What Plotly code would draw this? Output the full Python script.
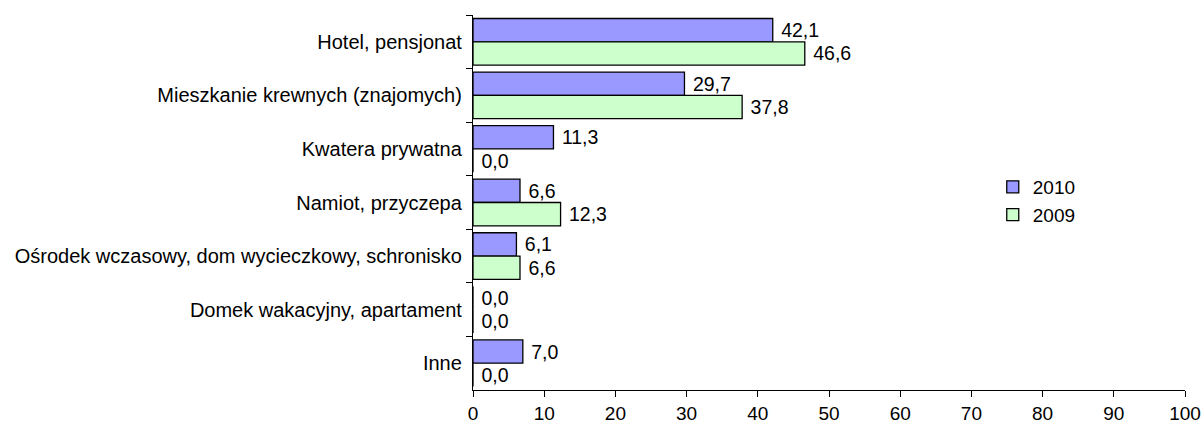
import plotly.graph_objects as go

categories = ["Hotel, pensjonat", "Mieszkanie krewnych (znajomych)", "Kwatera prywatna",
              "Namiot, przyczepa", "Ośrodek wczasowy, dom wycieczkowy, schronisko",
              "Domek wakacyjny, apartament", "Inne"]
values_2010 = [42.1, 29.7, 11.3, 6.6, 6.1, 0.0, 7.0]
values_2009 = [46.6, 37.8, 0.0, 12.3, 6.6, 0.0, 0.0]
x_ticks = [0, 10, 20, 30, 40, 50, 60, 70, 80, 90, 100]

FONT = "Liberation Sans, Arial"
fig = go.Figure()
for name, vals, color in [("2010", values_2010, "#9999FF"), ("2009", values_2009, "#CCFFCC")]:
    fig.add_trace(go.Bar(
        y=categories, x=vals, name=name, orientation="h",
        marker=dict(color=color, line=dict(color="black", width=1.3)),
        texttemplate="\u00a0%{x:.1f}", textposition="outside",
        textfont=dict(color="black", size=19.5, family=FONT),
        cliponaxis=False,
    ))

fig.update_layout(
    width=1204, height=426,
    barmode="group", bargap=0.13, bargroupgap=0,
    separators=", ",
    plot_bgcolor="white", paper_bgcolor="white",
    font=dict(family=FONT, size=19, color="black"),
    margin=dict(l=473, r=19, t=15, b=36, autoexpand=False),
    legend=dict(x=0.73, y=0.504, xanchor="left", yanchor="middle",
                font=dict(size=19), traceorder="normal",
                bgcolor="rgba(0,0,0,0)", itemwidth=30, tracegroupgap=0),
    showlegend=True,
)
fig.update_xaxes(range=[0, 100], tickvals=x_ticks, showgrid=False, zeroline=False,
                 showline=True, linecolor="black", linewidth=1.3, automargin=False,
                 ticks="outside", ticklen=6, tickcolor="black", tickwidth=1.3,
                 tickfont=dict(size=19))
fig.update_yaxes(autorange="reversed", showgrid=False, showline=True, linecolor="black",
                 linewidth=1.3, ticks="outside", tickson="boundaries", ticklen=6,
                 ticklabelstandoff=6,
                 automargin=False, tickcolor="black", tickwidth=1.3, tickfont=dict(size=20))

fig.write_html("out.html", config={"displayModeBar": False},
               post_script="document.body.style.margin='0';document.body.style.overflow='hidden';")
